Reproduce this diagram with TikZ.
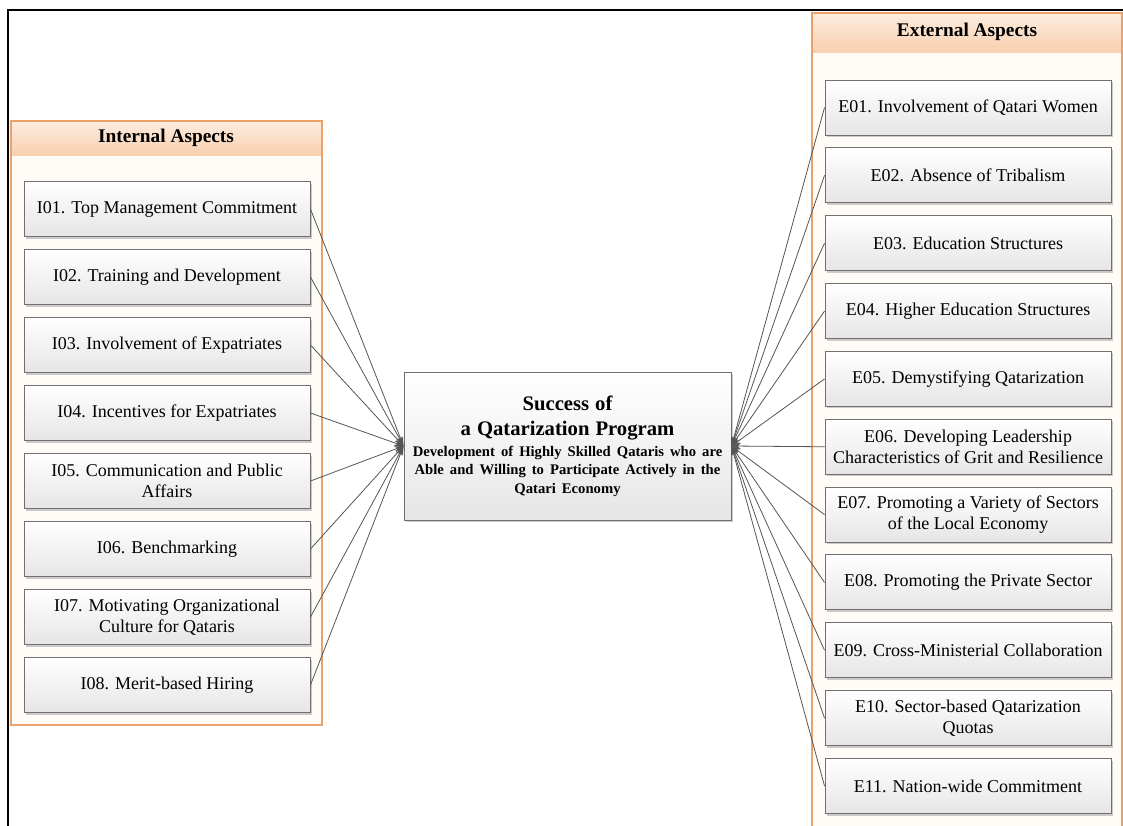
\documentclass[tikz,border=0pt]{standalone}
\usepackage{fontspec}
\setmainfont{Liberation Serif}
\usetikzlibrary{arrows.meta, shadows}

\definecolor{panelline}{RGB}{234,162,108}
\definecolor{headtop}{RGB}{253,236,222}
\definecolor{headbot}{RGB}{248,208,176}
\definecolor{panelfill}{RGB}{255,252,248}
\definecolor{boxline}{RGB}{112,112,112}
\definecolor{connline}{RGB}{85,85,85}

\begin{document}
\begin{tikzpicture}[x=0.75pt, y=-0.75pt, >=Stealth,
  aspect/.style={draw=boxline, line width=0.7pt, top color=white,
    bottom color=black!10, minimum width=214.5pt, minimum height=41.25pt,
    align=center, inner sep=2pt, font=\fontsize{13.5}{16}\selectfont,
    drop shadow={shadow xshift=1.5pt, shadow yshift=-1.5pt,
      fill=black!40, opacity=0.5}},
  paneltitle/.style={font=\fontsize{14.5}{17}\selectfont\bfseries},
  conn/.style={-{Stealth[length=7pt, width=4.5pt]}, draw=connline,
    line width=0.6pt}]
  \useasboundingbox (0,0) rectangle (1123,825);
  \clip (0,0) rectangle (1123,825);

  % Outer frame
  \draw[line width=1.5pt] (8,830) -- (8,10) -- (1130,10);

  % Internal panel
  \fill[panelfill] (11,121) rectangle (322,725);
  \shade[top color=headtop, bottom color=headbot] (11,121) rectangle (322,155);
  \draw[panelline, line width=0.9pt] (11,121) rectangle (322,725);
  \node[paneltitle] (inthead) at (166,138) {Internal Aspects};

  % External panel (runs off the page)
  \fill[panelfill] (812,13) rectangle (1122,830);
  \shade[top color=headtop, bottom color=headbot] (812,13) rectangle (1122,52);
  \draw[panelline, line width=0.9pt] (812,830) -- (812,13) -- (1122,13) -- (1122,830);
  \node[paneltitle] (exthead) at (967,32) {External Aspects};

  % Central goal
  \node[aspect, minimum width=245.25pt, minimum height=111pt,
    text width=240pt] (succ) at (567.5,446)
    {\centering{\fontsize{15.5}{18.75}\selectfont\bfseries Success of\\
      a Qatarization Program\par}\vspace{2pt}
     {\fontsize{11}{13.8}\selectfont\bfseries Development of Highly
      Skilled Qataris who are\\ Able and Willing to Participate Actively
      in the\\ Qatari Economy\par}};

  % Internal aspects (pitch 68px)
  \foreach \txt [count=\k] in {
      {I01. Top Management Commitment},
      {I02. Training and Development},
      {I03. Involvement of Expatriates},
      {I04. Incentives for Expatriates},
      {I05. Communication and Public\\Affairs},
      {I06. Benchmarking},
      {I07. Motivating Organizational\\Culture for Qataris},
      {I08. Merit-based Hiring}} {
    \node[aspect] (i\k) at (167, {141+68*\k}) {\txt};
  }

  % External aspects (pitch 67.85px)
  \foreach \txt [count=\k] in {
      {E01. Involvement of Qatari Women},
      {E02. Absence of Tribalism},
      {E03. Education Structures},
      {E04. Higher Education Structures},
      {E05. Demystifying Qatarization},
      {E06. Developing Leadership\\Characteristics of Grit and Resilience},
      {E07. Promoting a Variety of Sectors\\of the Local Economy},
      {E08. Promoting the Private Sector},
      {E09. Cross-Ministerial Collaboration},
      {E10. Sector-based Qatarization\\Quotas},
      {E11. Nation-wide Commitment}} {
    \node[aspect] (e\k) at (968, {39.65+67.85*\k}) {\txt};
  }

  % Connectors
  \foreach \k in {1,...,8}
    \draw[conn] (i\k.east) -- (succ.west);
  \foreach \k in {1,...,11}
    \draw[conn] (e\k.west) -- (succ.east);
\end{tikzpicture}
\end{document}
